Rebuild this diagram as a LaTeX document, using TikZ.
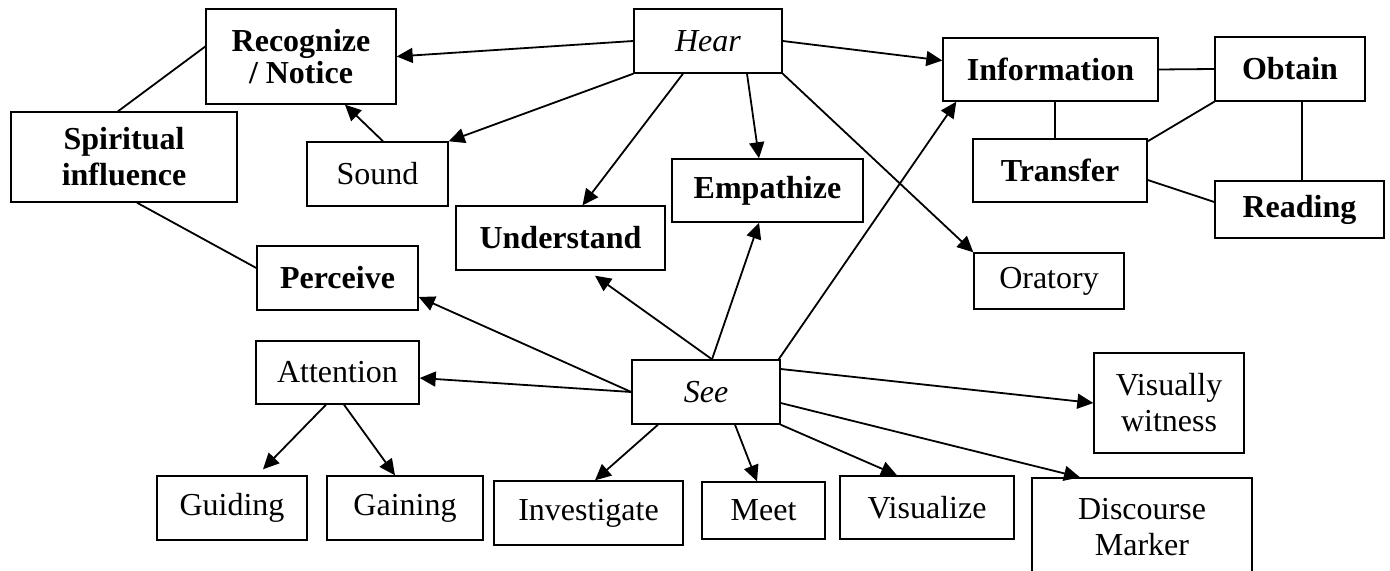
\documentclass[tikz,border=0pt]{standalone}
\usepackage{fontspec}
\setmainfont{Liberation Serif}
\usetikzlibrary{calc,arrows.meta}
\begin{document}
\begin{tikzpicture}[x=0.5pt,y=-0.5pt,
  box/.style={draw,line width=0.7pt,inner sep=0pt,align=center,font=\fontsize{16}{18}\selectfont},
  bbox/.style={box,font=\fontsize{16}{18}\selectfont\bfseries},
  ibox/.style={box,font=\fontsize{16}{18}\selectfont\itshape},
  arr/.style={line width=0.9pt,-{Triangle[length=8pt,width=7.5pt]}},
  ln/.style={line width=0.9pt}]
\useasboundingbox (0,0) rectangle (1390,571);
\node[bbox,minimum width=95pt,minimum height=47.5pt] (recog) at (301,56.5) {Recognize\\[-2pt]/ Notice};
\node[bbox,minimum width=113pt,minimum height=45pt] (spirit) at (124,157) {Spiritual\\influence};
\node[box,minimum width=70.5pt,minimum height=32pt] (sound) at (377.5,174) {Sound};
\node[ibox,minimum width=74pt,minimum height=32pt] (hear) at (708,41) {Hear};
\node[bbox,minimum width=95.5pt,minimum height=31.5pt] (empath) at (767.5,190.5) {Empathize};
\node[bbox,minimum width=104.5pt,minimum height=32pt] (under) at (560.5,238) {Understand};
\node[bbox,minimum width=107.5pt,minimum height=31.5pt] (info) at (1050.5,69.5) {Information};
\node[bbox,minimum width=75pt,minimum height=32pt] (obtain) at (1290,69) {Obtain};
\node[bbox,minimum width=87pt,minimum height=31.5pt] (transfer) at (1060,170.5) {Transfer};
\node[bbox,minimum width=84.5pt,minimum height=28.5pt] (reading) at (1299.5,209.5) {Reading};
\node[box,minimum width=75pt,minimum height=28pt] (oratory) at (1049,281) {Oratory};
\node[bbox,minimum width=80.5pt,minimum height=32pt] (perceive) at (337.5,278) {Perceive};
\node[box,minimum width=81.5pt,minimum height=31.5pt] (attention) at (337.5,372.5) {Attention};
\node[ibox,minimum width=74pt,minimum height=32pt] (see) at (706,392) {See};
\node[box,minimum width=75pt,minimum height=50pt] (visw) at (1169,403) {Visually\\witness};
\node[box,minimum width=75pt,minimum height=32pt] (guiding) at (232,508) {Guiding};
\node[box,minimum width=78pt,minimum height=32pt] (gaining) at (405,508) {Gaining};
\node[box,minimum width=94.5pt,minimum height=32pt] (invest) at (588.5,513) {Investigate};
\node[box,minimum width=61.5pt,minimum height=28.5pt] (meet) at (763.5,510.5) {Meet};
\node[box,minimum width=87pt,minimum height=31.5pt] (visualize) at (927,507.5) {Visualize};
\node[box,minimum width=110pt,minimum height=49pt] (discourse) at (1142,527) {Discourse\\Marker};

\draw[arr] (hear.west) -- (recog.east);
\draw[arr] (hear.east) -- ($(info.west)+(0,-9)$);
\draw[arr] (hear.south west) -- (sound.north east);
\draw[arr] ($(hear.south)+(-25,0)$) -- ($(under.north)+(22,0)$);
\draw[arr] ($(hear.south)+(39,0)$) -- ($(empath.north)+(-8.5,0)$);
\draw[arr] (hear.south east) -- (oratory.north west);
\draw[ln] ($(spirit.north)+(-6,0)$) -- ($(recog.west)+(0,-10)$);
\draw[arr] ($(sound.north)+(5.5,0)$) -- ($(recog.south)+(44,0)$);
\draw[ln] ($(spirit.south)+(13,0)$) -- ($(perceive.west)+(0,-10)$);
\draw[arr] (see.west) -- ($(perceive.east)+(0,19)$);
\draw[arr] (see.west) -- ($(attention.east)+(0,5.5)$);
\draw[arr] ($(see.north)+(6,0)$) -- ($(under.south)+(34.5,5)$);
\draw[arr] ($(see.north)+(6,0)$) -- ($(empath.south)+(-8.5,0)$);
\draw[arr] ($(see.north east)+(-2,0)$) -- ($(info.south west)+(14,0)$);
\draw[arr] ($(see.east)+(0,-23)$) -- (visw.west);
\draw[arr] ($(see.east)+(0,11)$) -- ($(discourse.north)+(-62,0)$);
\draw[arr] (see.south east) -- ($(visualize.north)+(-30,0)$);
\draw[arr] ($(see.south)+(29,0)$) -- ($(meet.north)+(-6.5,0)$);
\draw[arr] ($(see.south)+(-48,0)$) -- ($(invest.north)+(6.5,0)$);
\draw[arr] ($(attention.south)+(-11.5,0)$) -- ($(guiding.north)+(31,-6)$);
\draw[arr] ($(attention.south)+(6.5,0)$) -- ($(gaining.north)+(-10,0)$);
\draw[ln] (info.east) -- (obtain.west);
\draw[ln] ($(info.south)+(4.5,0)$) -- ($(transfer.north)+(-5,0)$);
\draw[ln] ($(transfer.north east)+(0,3)$) -- (obtain.south west);
\draw[ln] ($(obtain.south)+(12,0)$) -- ($(reading.north)+(2.5,0)$);
\draw[ln] ($(transfer.east)+(0,9.5)$) -- ($(reading.west)+(0,-7.5)$);
\end{tikzpicture}
\end{document}
